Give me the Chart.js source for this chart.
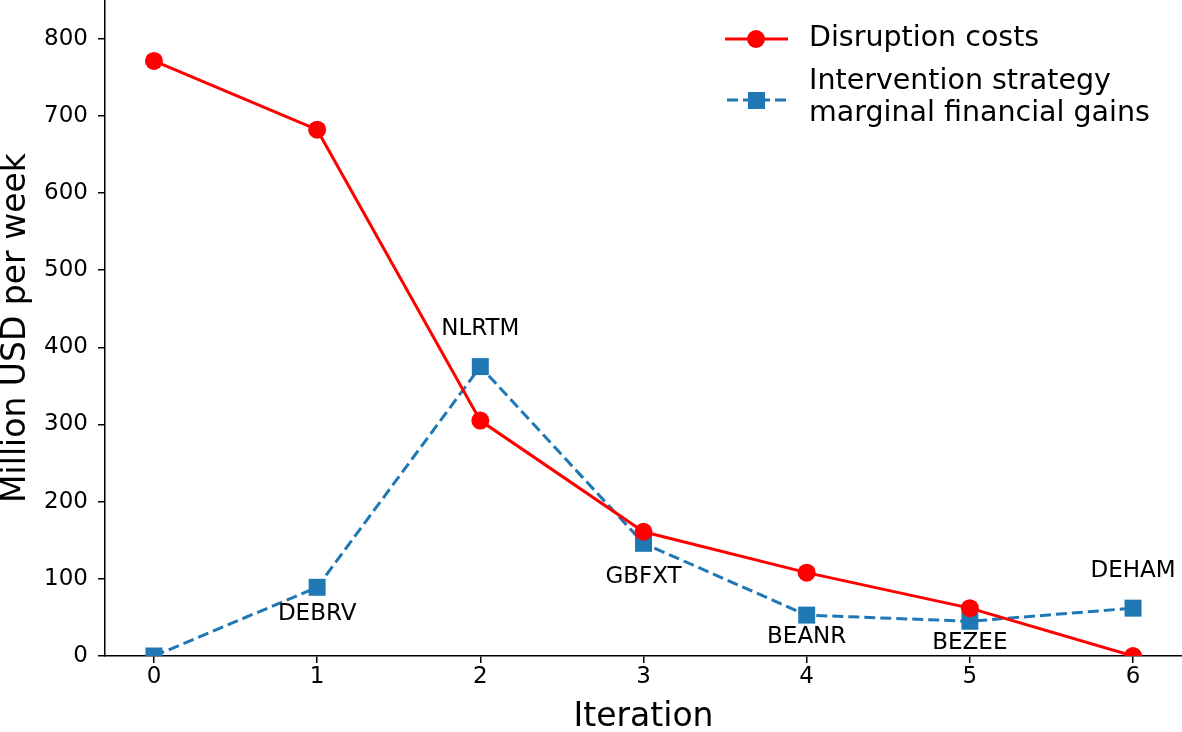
<!DOCTYPE html>
<html>
<head>
<meta charset="utf-8">
<script src="https://cdn.jsdelivr.net/npm/chart.js@4.4.0/dist/chart.umd.min.js"></script>
<style>
  html, body { margin: 0; padding: 0; background: #fff; }
  #wrap { width: 1182px; height: 732px; }
</style>
</head>
<body>
<div id="wrap"><canvas id="chart" width="1182" height="732"></canvas></div>
<script>
// data
var iterations = [0, 1, 2, 3, 4, 5, 6];
var disruptionCosts = [771, 682, 305, 161, 108, 62, 0];
var marginalGains = [0, 89, 375, 146, 53, 45, 62];
var portLabels = ["", "DEBRV", "NLRTM", "GBFXT", "BEANR", "BEZEE", "DEHAM"];
var yTicks = [0, 100, 200, 300, 400, 500, 600, 700, 800];

// pixel offset of each port label from its point
var labelOffsets = [0, 27, -38, 34, 22, 22, -37];

var FONT = "'DejaVu Sans', sans-serif";
var RED = "#ff0000";
var BLUE = "#1f77b4";

var toXY = function(xs, ys) {
  var pts = [];
  for (var i = 0; i < xs.length; i++) pts.push({ x: xs[i], y: ys[i] });
  return pts;
};

var portLabelPlugin = {
  id: "portLabels",
  afterDatasetsDraw: function(chart) {
    var ctx = chart.ctx;
    var xs = chart.scales.x, ys = chart.scales.y;
    ctx.save();
    ctx.font = "23px " + FONT;
    ctx.fillStyle = "#000";
    ctx.textAlign = "center";
    ctx.textBaseline = "middle";
    for (var i = 0; i < portLabels.length; i++) {
      if (!portLabels[i]) continue;
      ctx.fillText(portLabels[i],
        xs.getPixelForValue(iterations[i]),
        ys.getPixelForValue(marginalGains[i]) + labelOffsets[i]);
    }
    ctx.restore();
  }
};

var legendPlugin = {
  id: "mplLegend",
  afterDraw: function(chart) {
    var ctx = chart.ctx;
    ctx.save();
    // red line + circle
    ctx.strokeStyle = RED;
    ctx.lineWidth = 3;
    ctx.beginPath();
    ctx.moveTo(725, 39);
    ctx.lineTo(788, 39);
    ctx.stroke();
    ctx.fillStyle = RED;
    ctx.beginPath();
    ctx.arc(756, 39, 9, 0, Math.PI * 2);
    ctx.fill();
    // blue dashed + square
    ctx.strokeStyle = BLUE;
    ctx.setLineDash([11, 5]);
    ctx.beginPath();
    ctx.moveTo(727, 100);
    ctx.lineTo(787, 100);
    ctx.stroke();
    ctx.setLineDash([]);
    ctx.fillStyle = BLUE;
    ctx.fillRect(748, 92, 17, 17);
    // text
    ctx.fillStyle = "#000";
    ctx.font = "28.5px " + FONT;
    ctx.textAlign = "left";
    ctx.textBaseline = "middle";
    ctx.fillText("Disruption costs", 809, 39);
    ctx.fillText("Intervention strategy", 809, 82);
    ctx.fillText("marginal financial gains", 809, 114);
    ctx.restore();
  }
};

var chart = new Chart(document.getElementById("chart").getContext("2d"), {
  type: "line",
  data: {
    datasets: [
      {
        label: "Disruption costs",
        data: toXY(iterations, disruptionCosts),
        borderColor: RED,
        backgroundColor: RED,
        borderWidth: 3,
        pointStyle: "circle",
        pointRadius: 9,
        pointBorderWidth: 0,
        tension: 0
      },
      {
        label: "Intervention strategy marginal financial gains",
        data: toXY(iterations, marginalGains),
        borderColor: BLUE,
        backgroundColor: BLUE,
        borderWidth: 3,
        borderDash: [11, 5],
        pointStyle: "rect",
        pointRadius: 12,
        pointBorderWidth: 0,
        tension: 0
      }
    ]
  },
  options: {
    responsive: false,
    animation: false,
    layout: { autoPadding: false, padding: { top: 0, right: 0, left: 0, bottom: 0 } },
    plugins: {
      legend: { display: false },
      tooltip: { enabled: false }
    },
    scales: {
      x: {
        type: "linear",
        min: -0.3,
        max: 6.3,
        afterBuildTicks: function(s) {
          s.ticks = iterations.map(function(v) { return { value: v }; });
        },
        afterFit: function(s) {
          s.height = 76;
          s.paddingLeft = 0;
          s.paddingRight = 0;
        },
        grid: { drawOnChartArea: false, color: "#000", lineWidth: 1.5, tickLength: 7 },
        border: { display: true, color: "#000", width: 1.5 },
        ticks: {
          color: "#000",
          padding: 3,
          maxRotation: 0,
          font: { family: FONT, size: 23, lineHeight: 1 },
          callback: function(v) { return v; }
        },
        title: {
          display: true,
          text: "Iteration",
          color: "#000",
          padding: 0,
          font: { family: FONT, size: 33, lineHeight: 0.9 }
        }
      },
      y: {
        type: "linear",
        min: 0,
        max: 850,
        afterBuildTicks: function(s) {
          s.ticks = yTicks.map(function(v) { return { value: v }; });
        },
        afterFit: function(s) {
          s.width = 105;
          s.paddingTop = 0;
          s.paddingBottom = 0;
        },
        grid: { drawOnChartArea: false, color: "#000", lineWidth: 1.5, tickLength: 7 },
        border: { display: true, color: "#000", width: 1.5 },
        ticks: {
          color: "#000",
          padding: 10,
          font: { family: FONT, size: 23, lineHeight: 1 },
          callback: function(v) { return v; }
        },
        title: {
          display: true,
          text: "Million USD per week",
          color: "#000",
          padding: 0,
          font: { family: FONT, size: 33, lineHeight: 1 }
        }
      }
    }
  },
  plugins: [portLabelPlugin, legendPlugin]
});
</script>
</body>
</html>
